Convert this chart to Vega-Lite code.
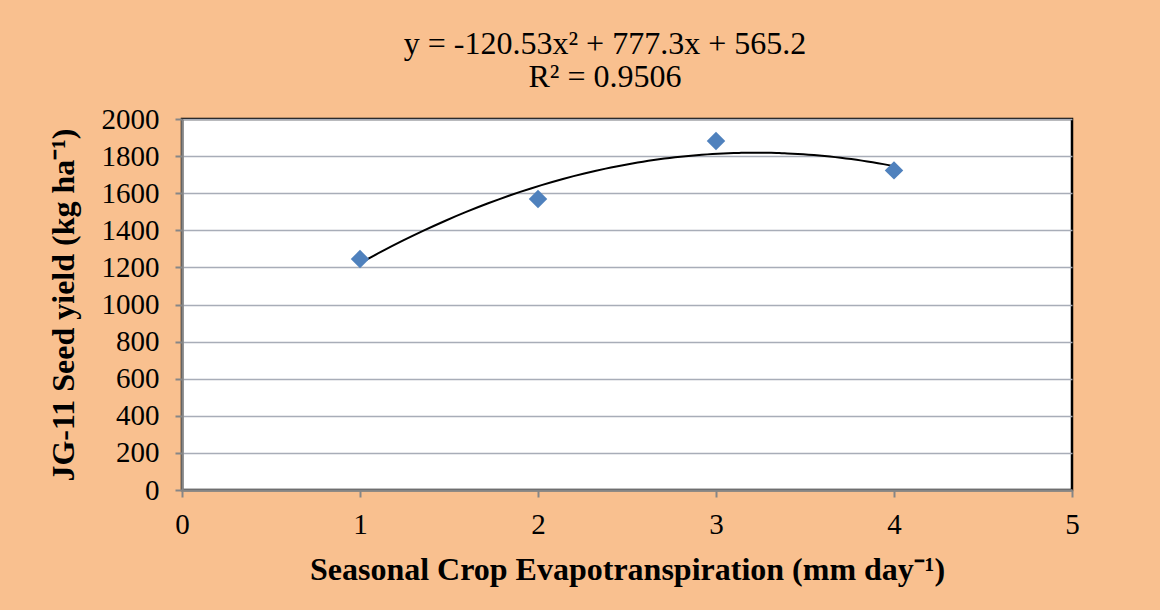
{
  "$schema": "https://vega.github.io/schema/vega-lite/v6.json",
  "width": 890,
  "height": 371,
  "autosize": {"type": "none"},
  "padding": {"left": 182, "top": 119, "right": 88, "bottom": 120},
  "background": "#F9C08F",
  "title": {
    "text": ["y = -120.53x² + 777.3x + 565.2", "R² = 0.9506"],
    "font": "Liberation Serif",
    "fontSize": 32,
    "fontWeight": "normal",
    "color": "#000000",
    "lineHeight": 33,
    "anchor": "middle",
    "dx": -22,
    "offset": 11
  },
  "config": {
    "view": {"fill": "#FFFFFF", "stroke": "#000000", "strokeWidth": 2.5},
    "axis": {
      "labelFont": "Liberation Serif",
      "labelFontSize": 29,
      "labelColor": "#000000",
      "labelOverlap": false,
      "labelFlush": false,
      "titleFont": "Liberation Serif",
      "titleFontSize": 32,
      "titleFontWeight": "bold",
      "titleColor": "#000000",
      "domainColor": "#868686",
      "domainWidth": 2.5,
      "tickColor": "#868686",
      "tickWidth": 2,
      "tickSize": 7,
      "gridColor": "#A8ADB8",
      "gridWidth": 1.5
    }
  },
  "data": {
    "values": [
      {"et": 1, "yield": 1245},
      {"et": 2, "yield": 1569},
      {"et": 3, "yield": 1881},
      {"et": 4, "yield": 1723}
    ]
  },
  "encoding": {
    "x": {
      "field": "et",
      "type": "quantitative",
      "scale": {"domain": [0, 5], "nice": false, "zero": false},
      "axis": {
        "title": "Seasonal Crop Evapotranspiration (mm day⁻¹)",
        "values": [0, 1, 2, 3, 4, 5],
        "format": "d",
        "grid": false,
        "labelPadding": 13,
        "titlePadding": 15
      }
    },
    "y": {
      "field": "yield",
      "type": "quantitative",
      "scale": {"domain": [0, 2000], "nice": false},
      "axis": {
        "title": "JG-11 Seed yield (kg ha⁻¹)",
        "values": [0, 200, 400, 600, 800, 1000, 1200, 1400, 1600, 1800, 2000],
        "tickCount": 11,
        "format": "d",
        "labelPadding": 16,
        "titlePadding": 21
      }
    }
  },
  "layer": [
    {
      "transform": [
        {"regression": "yield", "on": "et", "method": "poly", "order": 2, "extent": [1, 4]}
      ],
      "mark": {"type": "line", "color": "#000000", "strokeWidth": 2, "interpolate": "monotone"}
    },
    {
      "mark": {"type": "point", "shape": "diamond", "filled": true, "color": "#4F81BD", "size": 340, "opacity": 1}
    }
  ]
}
